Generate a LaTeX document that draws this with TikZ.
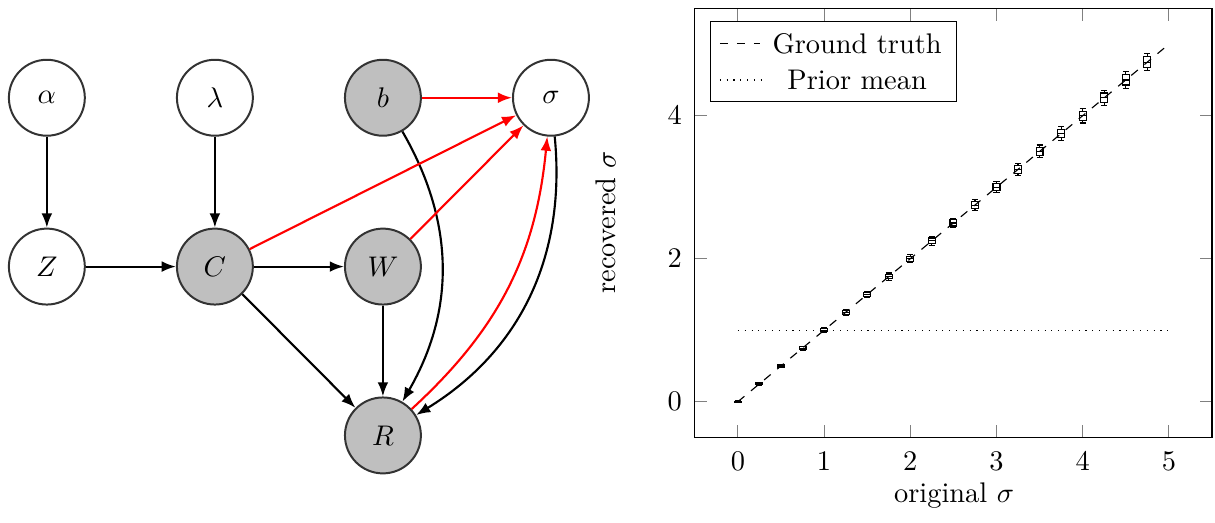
\documentclass[tikz,border=0pt]{standalone}
\usepackage{amssymb, amsmath}
\usepackage{tikz}
\usetikzlibrary{arrows.meta}

\begin{document}
\begin{tikzpicture}[
  latent/.style={circle, draw=black!80, line width=0.7pt, minimum size=9.4mm, inner sep=0pt},
  observed/.style={latent, fill=gray!50},
  link/.style={-{Latex[length=5pt, width=3.8pt]}, line width=0.75pt},
  redlink/.style={link, red},
  tickmark/.style={black!50, thin},
  whisker/.style={black, thin}]
\useasboundingbox (0,0) rectangle (15.04,6.47);
% graphical model
\node[latent]   (alpha)  at (0.58,5.26) {$\alpha$};
\node[latent]   (lambda) at (2.66,5.26) {$\lambda$};
\node[observed] (b)      at (4.74,5.26) {$b$};
\node[latent]   (sigma)  at (6.82,5.26) {$\sigma$};
\node[latent]   (Z)      at (0.58,3.17) {$Z$};
\node[observed] (C)      at (2.66,3.17) {$C$};
\node[observed] (W)      at (4.74,3.17) {$W$};
\node[observed] (R)      at (4.74,1.08) {$R$};
\draw[link] (alpha) -- (Z);
\draw[link] (lambda) -- (C);
\draw[link] (Z) -- (C);
\draw[link] (C) -- (W);
\draw[link] (C) -- (R);
\draw[link] (W) -- (R);
\draw[link] (b) to[bend left=30] (R);
\draw[link] (sigma) to[bend left=32] (R);
\draw[redlink] (b) -- (sigma);
\draw[redlink] (C) -- (sigma);
\draw[redlink] (W) -- (sigma);
\draw[redlink] (R) to[bend right=21] (sigma);
% recovered vs original sigma
\node[rotate=90] (ylab) at (7.50,3.72) {recovered $\sigma$};
\node (xlab) at (11.81,0.33) {original $\sigma$};
\begin{scope}[shift={(9.134,1.4975)}, x=1.067cm, y=0.885cm]
\foreach \t in {0,...,5} {
  \draw[tickmark] (\t,-0.5) -- ++(0,0.17);
  \draw[tickmark] (\t,5.5) -- ++(0,-0.17);
  \node[anchor=north, yshift=-1.8pt] at (\t,-0.5) {$\t$};
}
\foreach \t in {0,2,4} {
  \draw[tickmark] (-0.5,\t) -- ++(0.14,0);
  \draw[tickmark] (5.5,\t) -- ++(-0.14,0);
  \node[anchor=east, xshift=-1pt] at (-0.5,\t) {$\t$};
}
\draw[thin, dashed] (0,0) -- (5,5);
\draw[thin, dotted] (0,1) -- (5,1);
\foreach \i in {0,...,19} {
  \pgfmathsetmacro\xx{\i/4}
  \pgfmathsetmacro\bh{0.008+0.014*\xx}
  \pgfmathsetmacro\wh{0.010+0.023*\xx}
  \draw[whisker] (\xx-0.04,\xx-\bh) rectangle (\xx+0.04,\xx+\bh);
  \draw[whisker] (\xx-0.04,\xx) -- (\xx+0.04,\xx);
  \draw[whisker] (\xx,\xx+\bh) -- (\xx,\xx+\wh);
  \draw[whisker] (\xx,\xx-\bh) -- (\xx,\xx-\wh);
  \draw[whisker] (\xx-0.035,\xx+\wh) -- (\xx+0.035,\xx+\wh);
  \draw[whisker] (\xx-0.035,\xx-\wh) -- (\xx+0.035,\xx-\wh);
}
\draw[thin] (-0.5,-0.5) rectangle (5.5,5.5);
\end{scope}
% legend
\draw[thin] (8.80,5.21) rectangle (11.84,6.20);
\coordinate (g1) at (8.91,5.93);
\coordinate (g2) at (9.41,5.93);
\coordinate (p1) at (8.91,5.48);
\coordinate (p2) at (9.47,5.48);
\draw[thin, dashed] (g1) -- (g2);
\draw[thin, dotted] (p1) -- (p2);
\node (gt) at (10.61,5.93) {Ground truth};
\node (pm) at (10.61,5.48) {Prior mean};
\end{tikzpicture}
\end{document}
